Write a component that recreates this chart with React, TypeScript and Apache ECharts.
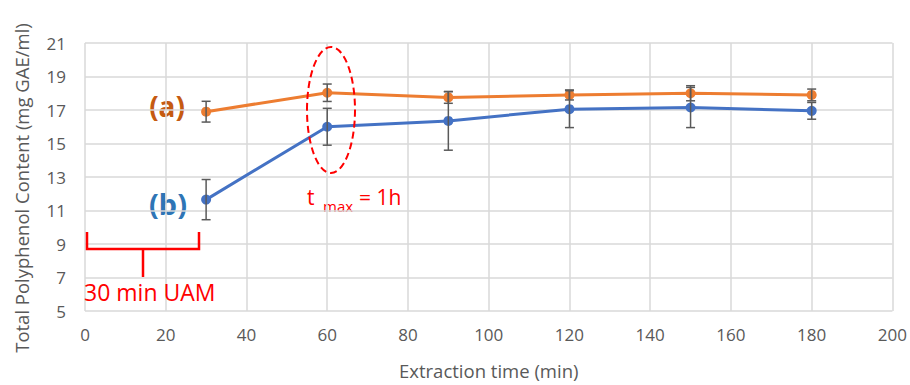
import React, { useEffect, useRef } from "react";
import * as echarts from "echarts";

const times = [30, 60, 90, 120, 150, 180];
const seriesA = [16.9, 18.03, 17.75, 17.9, 18.0, 17.9];
const errA = [0.62, 0.52, 0.35, 0.3, 0.45, 0.35];
const seriesB = [11.65, 16.0, 16.35, 17.05, 17.15, 16.95];
const errB = [1.2, 1.1, 1.75, 1.1, 1.2, 0.5];
const xTicks = { min: 0, max: 200, interval: 20 };
const yTicks = { min: 5, max: 21, interval: 2 };

const FONT = "'Open Sans', 'Liberation Sans', sans-serif";
const BOLD_FONT = "'Noto Sans', 'Open Sans', sans-serif";
const GRAY = "#595959";

function errorSeries(vals: number[], errs: number[]) {
  return {
    type: "custom",
    z: 5,
    encode: { x: 0, y: [1, 2] },
    data: times.map((t, i) => [t, vals[i] - errs[i], vals[i] + errs[i]]),
    renderItem: (params: any, api: any) => {
      const x = api.value(0);
      const lo = api.coord([x, api.value(1)]);
      const hi = api.coord([x, api.value(2)]);
      const w = 4.5;
      const style = { stroke: GRAY, lineWidth: 1.5 };
      return {
        type: "group",
        children: [
          { type: "line", shape: { x1: hi[0], y1: hi[1], x2: lo[0], y2: lo[1] }, style },
          { type: "line", shape: { x1: hi[0] - w, y1: hi[1], x2: hi[0] + w, y2: hi[1] }, style },
          { type: "line", shape: { x1: lo[0] - w, y1: lo[1], x2: lo[0] + w, y2: lo[1] }, style },
        ],
      };
    },
  };
}

export default function App() {
  const ref = useRef<HTMLDivElement>(null);
  useEffect(() => {
    if (!ref.current) return;
    const chart = echarts.init(ref.current, null, { renderer: "svg" });
    chart.setOption({
      animation: false,
      backgroundColor: "#ffffff",
      grid: { left: 85, right: 17, top: 43, bottom: 68, containLabel: false },
      xAxis: {
        type: "value",
        min: xTicks.min,
        max: xTicks.max,
        interval: xTicks.interval,
        name: "Extraction time (min)",
        nameLocation: "middle",
        nameGap: 50,
        nameTextStyle: { color: GRAY, fontSize: 18.5, fontFamily: FONT },
        axisLine: { show: false },
        axisTick: { show: false },
        axisLabel: { color: GRAY, fontSize: 17, fontFamily: FONT, margin: 15 },
        splitLine: { show: true, lineStyle: { color: "#d9d9d9", width: 1.5 } },
      },
      yAxis: {
        type: "value",
        min: yTicks.min,
        max: yTicks.max,
        interval: yTicks.interval,
        axisLine: { show: false },
        axisTick: { show: false },
        axisLabel: { color: GRAY, fontSize: 17, fontFamily: FONT, margin: 19 },
        splitLine: { show: true, lineStyle: { color: "#d9d9d9", width: 1.5 } },
      },
      series: [
        {
          type: "line",
          name: "(a)",
          data: times.map((t, i) => [t, seriesA[i]]),
          symbol: "circle",
          symbolSize: 10,
          itemStyle: { color: "#ED7D31" },
          lineStyle: { color: "#ED7D31", width: 3 },
          z: 3,
        },
        {
          type: "line",
          name: "(b)",
          data: times.map((t, i) => [t, seriesB[i]]),
          symbol: "circle",
          symbolSize: 10,
          itemStyle: { color: "#4472C4" },
          lineStyle: { color: "#4472C4", width: 3 },
          z: 3,
        },
        errorSeries(seriesA, errA),
        errorSeries(seriesB, errB),
      ],
      graphic: [
        {
          type: "text",
          x: 21,
          y: 188,
          rotation: Math.PI / 2,
          style: {
            text: "Total Polyphenol Content (mg GAE/ml)",
            fill: GRAY,
            fontSize: 18.5,
            fontFamily: FONT,
            align: "center",
            verticalAlign: "middle",
          },
        },
        {
          type: "text",
          x: 167,
          y: 106,
          style: {
            text: "(a)",
            fill: "#C55A11",
            fontSize: 28,
            fontWeight: "bold",
            fontFamily: BOLD_FONT,
            align: "center",
            verticalAlign: "middle",
          },
        },
        {
          type: "text",
          x: 168,
          y: 203,
          style: {
            text: "(b)",
            fill: "#2E75B6",
            fontSize: 29,
            fontWeight: "bold",
            fontFamily: BOLD_FONT,
            align: "center",
            verticalAlign: "middle",
          },
        },
        {
          type: "ellipse",
          shape: { cx: 331, cy: 110, rx: 24, ry: 63 },
          style: { fill: "none", stroke: "#FF0000", lineWidth: 2, lineDash: [7, 4] },
          z: 10,
        },
        {
          type: "text",
          x: 307,
          y: 197,
          style: { text: "t", fill: "#FF0000", fontSize: 21, fontFamily: FONT, align: "left", verticalAlign: "middle" },
        },
        {
          type: "text",
          x: 323,
          y: 206,
          style: { text: "max", fill: "#FF0000", fontSize: 15, fontFamily: FONT, align: "left", verticalAlign: "middle" },
        },
        {
          type: "text",
          x: 359,
          y: 197,
          style: { text: "= 1h", fill: "#FF0000", fontSize: 21, fontFamily: FONT, align: "left", verticalAlign: "middle" },
        },
        {
          type: "polyline",
          shape: { points: [[87, 232], [87, 249], [199, 249], [199, 232]] },
          style: { stroke: "#FF0000", lineWidth: 2.5, fill: "none" },
          z: 10,
        },
        {
          type: "line",
          shape: { x1: 143, y1: 249, x2: 143, y2: 277 },
          style: { stroke: "#FF0000", lineWidth: 2.5 },
          z: 10,
        },
        {
          type: "text",
          x: 84,
          y: 292,
          style: { text: "30 min UAM", fill: "#FF0000", fontSize: 23, fontFamily: FONT, align: "left", verticalAlign: "middle" },
          z: 10,
        },
      ],
    });
    return () => chart.dispose();
  }, []);
  return (
    <div
      ref={ref}
      style={{ position: "fixed", left: 0, top: 0, width: 910, height: 385, background: "#fff" }}
    />
  );
}
